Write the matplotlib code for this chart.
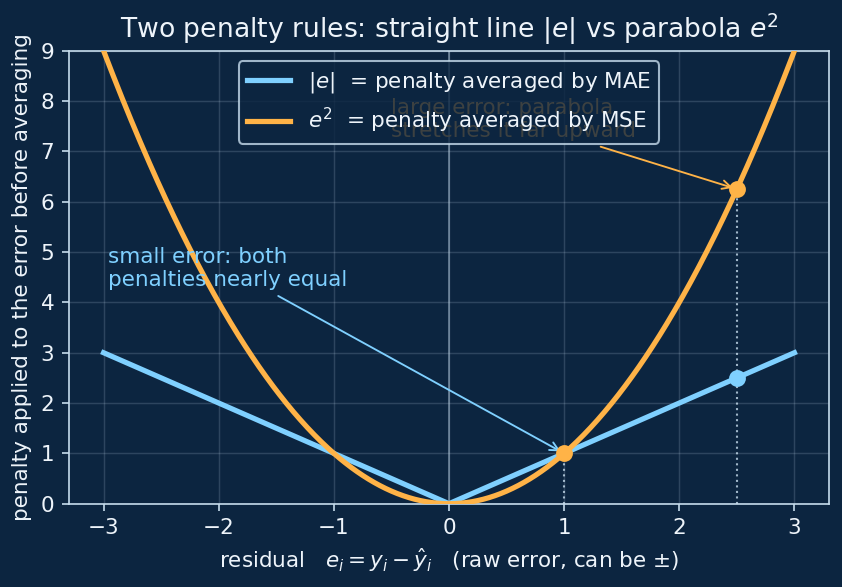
import numpy as np
import matplotlib
matplotlib.use("Agg")
import matplotlib.pyplot as plt

# colours
BG = "#0c2540"
FG = "#eef4fa"
SPINE = "#c6dcec"
BLUE = "#7fd0ff"
ORANGE = "#ffb347"

# data
residuals = np.linspace(-3, 3, 601)
abs_penalty = np.abs(residuals)
sq_penalty = residuals ** 2
marked_x = [1.0, 2.5]
marked_abs = [1.0, 2.5]
marked_sq = [1.0, 6.25]
xticks = [-3, -2, -1, 0, 1, 2, 3]
yticks = list(range(10))

FS = 10.3

fig = plt.figure(figsize=(842 / 150, 587 / 150), dpi=150, facecolor=BG)
ax = fig.add_axes([69 / 842, 1 - 503.7 / 587, 760 / 842, 453 / 587])
ax.set_facecolor(BG)

ax.plot(residuals, abs_penalty, color=BLUE, lw=2.5, label=r"$|e|$  = penalty averaged by MAE", zorder=3)
ax.plot(residuals, sq_penalty, color=ORANGE, lw=2.5, label=r"$e^2$  = penalty averaged by MSE", zorder=3)

# dotted guides + markers
for x, ya, ys in zip(marked_x, marked_abs, marked_sq):
	ax.plot([x, x], [0, max(ya, ys)], ls=":", color=SPINE, lw=1.0, alpha=0.8, zorder=2)
ax.scatter(marked_x[1:], marked_abs[1:], color=BLUE, s=50, zorder=4)
ax.scatter(marked_x, marked_sq, color=ORANGE, s=50, zorder=4)

ax.axvline(0, color=SPINE, lw=0.8, alpha=0.5, zorder=1)

ax.annotate("small error: both\npenalties nearly equal", xy=(1, 1), xytext=(-2.96, 4.25),
	color=BLUE, fontsize=FS, ha="left", va="bottom",
	arrowprops=dict(arrowstyle="->", color=BLUE, lw=0.9))
ax.annotate("large error: parabola\nstretches it far upward", xy=(2.5, 6.25), xytext=(-0.5, 7.2),
	color=ORANGE, fontsize=FS, ha="left", va="bottom",
	arrowprops=dict(arrowstyle="->", color=ORANGE, lw=0.9))

ax.set_xlim(-3.3, 3.3)
ax.set_ylim(0, 9)
ax.set_xticks(xticks)
ax.set_yticks(yticks)
ax.grid(True, color=SPINE, alpha=0.18, lw=0.7)
ax.set_axisbelow(True)

for s in ax.spines.values():
	s.set_color(SPINE)
ax.tick_params(colors=SPINE, labelcolor=FG, labelsize=FS)

ax.set_title(r"Two penalty rules: straight line $|e|$ vs parabola $e^2$", color=FG, fontsize=12.8)
ax.set_xlabel(r"residual   $e_i = y_i - \hat{y}_i$   (raw error, can be $\pm$)", color=FG, fontsize=FS)
ax.set_ylabel("penalty applied to the error before averaging", color=FG, fontsize=FS)

leg = ax.legend(loc="upper center", fontsize=FS, facecolor=BG, edgecolor=SPINE, framealpha=0.8)
for t in leg.get_texts():
	t.set_color(FG)

fig.savefig("out.png", dpi=150, facecolor=BG)
